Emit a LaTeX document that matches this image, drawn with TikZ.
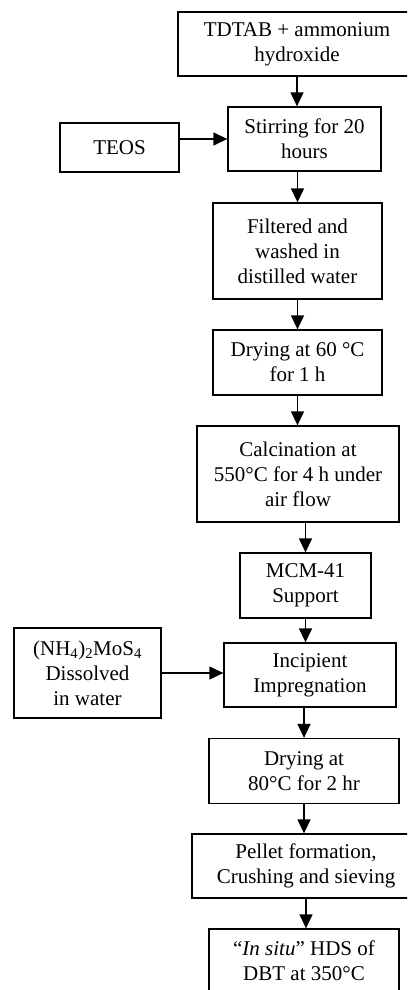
\documentclass[tikz,border=0pt]{standalone}
\usepackage{fontspec}
\setmainfont{Liberation Serif}
\usetikzlibrary{arrows.meta}
\begin{document}
\begin{tikzpicture}[x=1pt,y=1pt,
  box/.style={draw=black,line width=1.3pt,inner sep=0pt,align=center,
    font=\fontsize{21}{25}\selectfont},
  arr/.style={line width=1.3pt,-{Triangle[width=13pt,length=14pt]}}]
\useasboundingbox (0,0) rectangle (407,-990);
\clip (0,0) rectangle (407,-990);
\node[box,minimum width=238pt,minimum height=64pt] (s1) at (297,-44) {TDTAB + ammonium\\hydroxide};
\node[box,minimum width=153pt,minimum height=64pt] (s2) at (304.5,-139) {Stirring for 20\\hours};
\node[box,minimum width=119pt,minimum height=49pt] (teos) at (119.5,-147.5) {TEOS};
\node[box,minimum width=169pt,minimum height=96pt] (s3) at (297.5,-251) {Filtered and\\washed in\\distilled water};
\node[box,minimum width=169pt,minimum height=65pt] (s4) at (297.5,-362.5) {Drying at 60 °C\\for 1 h};
\node[box,minimum width=202pt,minimum height=96pt] (s5) at (298,-474) {Calcination at\\550°C for 4 h under\\air flow};
\node[box,minimum width=131pt,minimum height=65pt] (s6) at (305.5,-585.5) {MCM-41\\Support};
\node[box,minimum width=172pt,minimum height=64pt] (s7) at (310,-675) {Incipient\\Impregnation};
\node[box,minimum width=147pt,minimum height=90pt] (nh) at (87.5,-673) {(NH\textsubscript{4})\textsubscript{2}MoS\textsubscript{4}\\Dissolved\\in water};
\node[box,minimum width=190pt,minimum height=65pt] (s8) at (304,-771) {Drying at\\80°C for 2 hr};
\node[box,minimum width=228pt,minimum height=64pt] (s9) at (306,-866) {Pellet formation,\\Crushing and sieving};
\node[box,minimum width=190pt,minimum height=64pt] (s10) at (304,-961) {“\textit{In situ}” HDS of\\DBT at 350°C};
\draw[arr] (s1.south) -- (s1.south |- s2.north);
\draw[arr] (teos.east |- s2.west) -- (s2.west);
\draw[arr] (s3.north |- s2.south) -- (s3.north);
\draw[arr] (s3.south) -- (s4.north);
\draw[arr] (s4.south) -- (s4.south |- s5.north);
\draw[arr] (s6.north |- s5.south) -- (s6.north);
\draw[arr] (s6.south) -- (s6.south |- s7.north);
\draw[arr] (nh.east) -- (s7.west |- nh.east);
\draw[arr] (s8.north |- s7.south) -- (s8.north);
\draw[arr] (s8.south) -- (s8.south |- s9.north);
\draw[arr] (s9.south) -- (s9.south |- s10.north);
\end{tikzpicture}
\end{document}
